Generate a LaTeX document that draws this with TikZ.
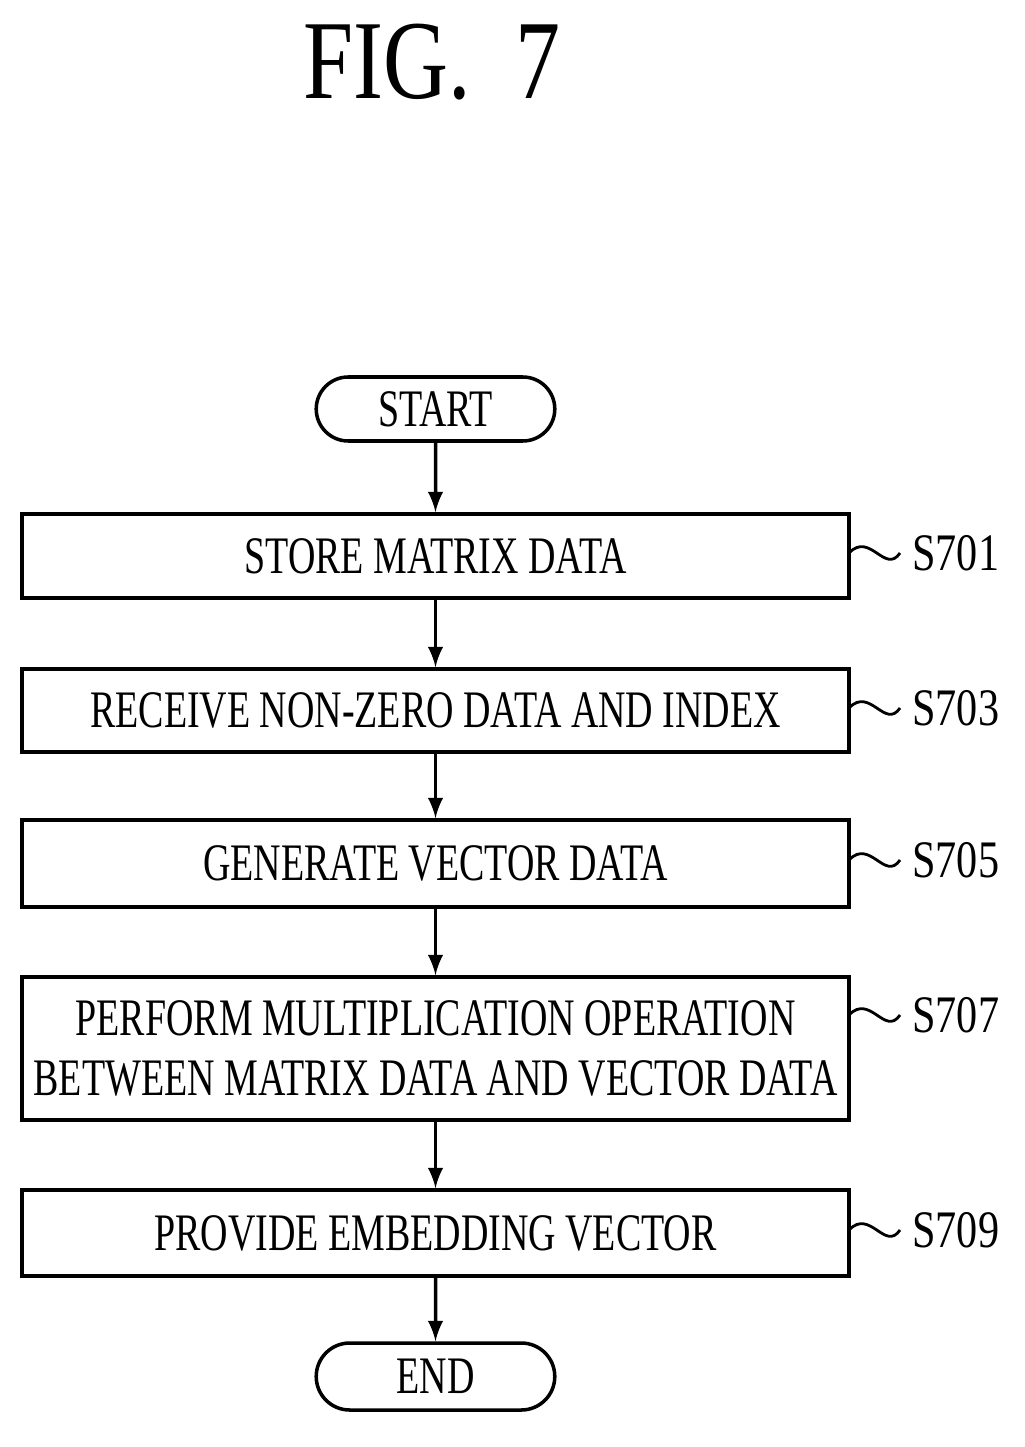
\documentclass[tikz,border=0pt]{standalone}
\usepackage{fontspec}
\setmainfont{Liberation Serif}
\usetikzlibrary{positioning,shapes.misc}
\newcommand{\nar}[1]{\scalebox{0.72}[1]{#1}}
\tikzset{
  stepbox/.style={draw, line width=1pt, minimum width=8.27cm, align=center, font=\fontsize{15}{19}\selectfont},
  term/.style={draw, line width=1pt, rounded rectangle, minimum width=2.62cm, minimum height=0.64cm, font=\fontsize{15}{18}\selectfont},
  flow/.style={->, line width=1pt, >=latex},
  tag/.style={anchor=west, font=\fontsize{15}{18}\selectfont},
}
\begin{document}
\begin{tikzpicture}
  \useasboundingbox (0,0) rectangle (10.24,-14.47);

  % Title
  \node (title) at (4.32,-0.62) {\fontsize{32}{36}\selectfont\scalebox{0.8}[1]{FIG.\ \ 7}};

  % Terminals and steps
  \node [term] (start) at (4.355,-4.09) {\nar{START}};
  \node [stepbox, minimum height=0.84cm] (s1) at (4.355,-5.56) {\nar{STORE MATRIX DATA}};
  \node [stepbox, minimum height=0.83cm] (s3) at (4.355,-7.105) {\nar{RECEIVE NON-ZERO DATA AND INDEX}};
  \node [stepbox, minimum height=0.87cm] (s5) at (4.355,-8.635) {\nar{GENERATE VECTOR DATA}};
  \node [stepbox, minimum height=1.43cm] (s7) at (4.355,-10.485) {\nar{PERFORM MULTIPLICATION OPERATION}\\[-2pt]\nar{BETWEEN MATRIX DATA AND VECTOR DATA}};
  \node [stepbox, minimum height=0.86cm] (s9) at (4.355,-12.33) {\nar{PROVIDE EMBEDDING VECTOR}};
  \node [term, minimum height=0.67cm] (end) at (4.355,-13.765) {\nar{END}};

  % Arrows
  \draw [flow] (start) -- (s1);
  \draw [flow] (s1) -- (s3);
  \draw [flow] (s3) -- (s5);
  \draw [flow] (s5) -- (s7);
  \draw [flow] (s7) -- (s9);
  \draw [flow] (s9) -- (end);

  % Step labels with squiggles
  \foreach \b/\t/\y in {s1/S701/-5.53, s3/S703/-7.08, s5/S705/-8.6, s7/S707/-10.15, s9/S709/-12.3} {
    \node [tag] (l\b) at (9.0,\y) {\scalebox{0.8}[1]{\t}};
    \draw [line width=0.8pt] (8.49,\y) .. controls (8.7,\y+0.22) and (8.85,\y-0.22) .. (l\b.west);
  }
\end{tikzpicture}
\end{document}
